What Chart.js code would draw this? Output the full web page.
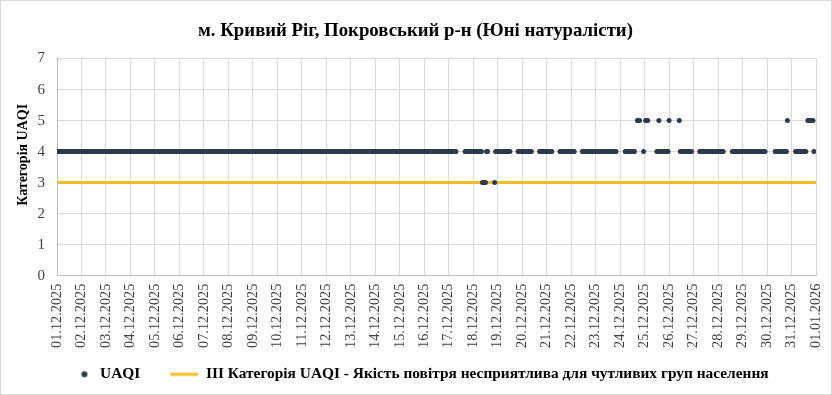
<!DOCTYPE html>
<html>
<head>
<meta charset="utf-8">
<script src="https://cdn.jsdelivr.net/npm/chart.js@4.4.0/dist/chart.umd.min.js"></script>
<style>
  html, body { margin: 0; padding: 0; background: #fff; }
  .frame { width: 832px; height: 395px; box-sizing: border-box; border: 1px solid #d9d9d9; }
  canvas { display: block; }
</style>
</head>
<body>
<div class="frame"><canvas id="uaqiChart" width="830" height="393"></canvas></div>
<script>
// tick labels along the time axis (one per day)
const dateLabels = [
    '01.12.2025', '02.12.2025', '03.12.2025', '04.12.2025', '05.12.2025', '06.12.2025',
    '07.12.2025', '08.12.2025', '09.12.2025', '10.12.2025', '11.12.2025', '12.12.2025',
    '13.12.2025', '14.12.2025', '15.12.2025', '16.12.2025', '17.12.2025', '18.12.2025',
    '19.12.2025', '20.12.2025', '21.12.2025', '22.12.2025', '23.12.2025', '24.12.2025',
    '25.12.2025', '26.12.2025', '27.12.2025', '28.12.2025', '29.12.2025', '30.12.2025',
    '31.12.2025', '01.01.2026'
];

// hourly UAQI category, one string per day, 24 hours each ('.' = no reading)
const hourlyUaqi = [
    '444444444444444444444444', // 01.12
    '444444444444444444444444',
    '444444444444444444444444',
    '444444444444444444444444',
    '444444444444444444444444', // 05.12
    '444444444444444444444444',
    '444444444444444444444444',
    '444444444444444444444444',
    '444444444444444444444444',
    '444444444444444444444444', // 10.12
    '444444444444444444444444',
    '444444444444444444444444',
    '444444444444444444444444',
    '444444444444444444444444',
    '444444444444444444444444', // 15.12
    '444444444444444444444444',
    '44444444........44444444', // 17.12
    '444444444333344......344',
    '4444444444444.......4444',
    '4444444444.......4444444', // 20.12
    '444444.......44444444444',
    '4444.......4444444444444',
    '444444444444444444444...',
    '.....4444444444..555...4',
    '.555........445444444444', // 25.12
    '5.........5444444444444.',
    '......444444444444444444',
    '444444........4444444444',
    '44444444444444444444444.',
    '........4444444444445...', // 30.12
    '....44444444444.5555554.'
];

// threshold: category III
const thresholdLevel = 3;

const POINT_COLOR = '#2f3a4c';
const LINE_COLOR = '#f5bd1f';
const SERIF = "'Liberation Serif', 'Times New Roman', serif";

const uaqiPoints = [];
hourlyUaqi.forEach((day, d) => {
    for (let h = 0; h < day.length; h++) {
        if (day[h] !== '.') uaqiPoints.push({ x: d * 24 + h, y: Number(day[h]) });
    }
});
const lastHour = (dateLabels.length - 1) * 24;

// legend icons (same box width for both entries)
const ICON_W = 48;
const dotIcon = document.createElement('canvas');
dotIcon.width = ICON_W; dotIcon.height = 10;
let g = dotIcon.getContext('2d');
g.fillStyle = POINT_COLOR;
g.beginPath(); g.arc(40, 5, 3, 0, Math.PI * 2); g.fill();

const lineIcon = document.createElement('canvas');
lineIcon.width = ICON_W; lineIcon.height = 10;
g = lineIcon.getContext('2d');
g.fillStyle = LINE_COLOR;
g.fillRect(20, 3.5, ICON_W - 20, 3);

// nudge the legend a little left so the visible part sits centred
const legendShift = {
    id: 'legendShift',
    afterLayout(chart) {
        chart.legend.left -= 9;
        chart.legend.right -= 9;
    }
};

new Chart(document.getElementById('uaqiChart'), {
    data: {
        datasets: [
            {
                type: 'scatter',
                label: 'UAQI',
                data: uaqiPoints,
                backgroundColor: POINT_COLOR,
                borderWidth: 0,
                pointRadius: 2.5,
                pointHoverRadius: 2.5
            },
            {
                type: 'line',
                label: 'ІІІ Категорія UAQI - Якість повітря несприятлива для чутливих груп населення',
                data: [{ x: 0, y: thresholdLevel }, { x: lastHour, y: thresholdLevel }],
                borderColor: LINE_COLOR,
                backgroundColor: LINE_COLOR,
                borderWidth: 3,
                pointRadius: 0
            }
        ]
    },
    plugins: [legendShift],
    options: {
        responsive: false,
        animation: false,
        layout: { padding: { left: 14, right: 15, bottom: 2 } },
        plugins: {
            title: {
                display: true,
                text: 'м. Кривий Ріг, Покровський р-н (Юні натуралісти)',
                color: '#000',
                font: { family: SERIF, size: 18.8, weight: 'bold' },
                padding: { top: 19, bottom: 16 }
            },
            legend: {
                position: 'bottom',
                labels: {
                    color: '#000',
                    font: { family: SERIF, size: 15.4, weight: 'bold' },
                    usePointStyle: true,
                    pointStyleWidth: ICON_W,
                    padding: 10,
                    generateLabels: chart => {
                        const items = Chart.defaults.plugins.legend.labels.generateLabels(chart);
                        items[0].pointStyle = dotIcon;
                        items[1].pointStyle = lineIcon;
                        return items;
                    }
                }
            },
            tooltip: { enabled: false }
        },
        scales: {
            x: {
                type: 'linear',
                min: 0,
                max: lastHour,
                afterFit: s => { s.height = 81; s.paddingRight = 0; },
                grid: { color: '#d9d9d9', drawTicks: false },
                border: { color: '#bfbfbf' },
                ticks: {
                    stepSize: 24,
                    autoSkip: false,
                    minRotation: 90,
                    maxRotation: 90,
                    padding: 8,
                    color: '#404040',
                    font: { family: SERIF, size: 14.3 },
                    callback: v => dateLabels[Math.round(v / 24)]
                }
            },
            y: {
                min: 0,
                max: 7,
                afterFit: s => { s.width = 42; },
                grid: { color: '#d9d9d9', drawTicks: false },
                border: { color: '#bfbfbf' },
                title: {
                    display: true,
                    text: '\u00a0'.repeat(7) + 'Категорія UAQI',
                    color: '#000',
                    font: { family: SERIF, size: 14, weight: 'bold' },
                    padding: 0
                },
                ticks: {
                    stepSize: 1,
                    padding: 12,
                    color: '#404040',
                    font: { family: SERIF, size: 15 }
                }
            }
        }
    }
});
</script>
</body>
</html>
